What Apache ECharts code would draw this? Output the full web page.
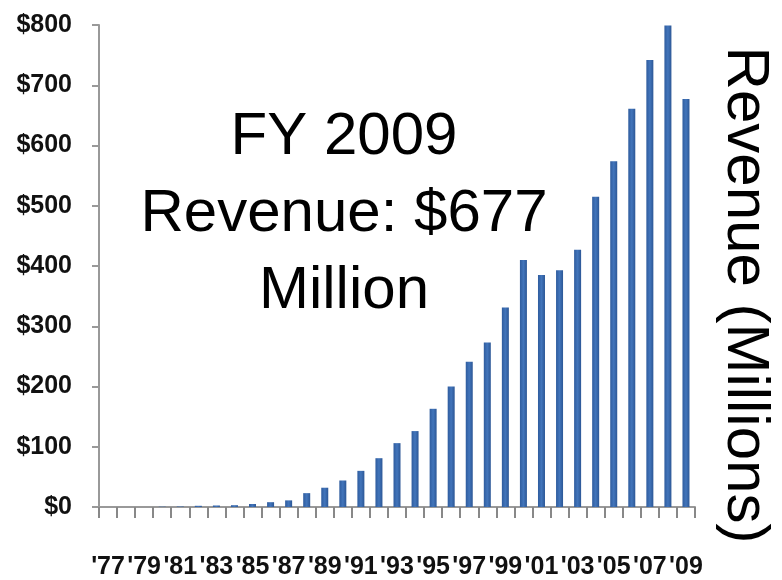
<!DOCTYPE html>
<html>
<head>
<meta charset="utf-8">
<script src="https://cdn.jsdelivr.net/npm/echarts@6/dist/echarts.min.js"></script>
<style>
html,body{margin:0;padding:0;background:#fff;}
#chart{width:782px;height:580px;}
</style>
</head>
<body>
<div id="chart"></div>
<script>
// Fiscal years ('77 – '09)
const years = ["'77","'78","'79","'80","'81","'82","'83","'84","'85","'86","'87","'88","'89","'90","'91","'92","'93","'94","'95","'96","'97","'98","'99","'00","'01","'02","'03","'04","'05","'06","'07","'08","'09"];
// Revenue in $ millions
const revenue = [0,0,0,0.5,0.8,2,2.5,3,5,8,11,23,32,44,60,81,106,126,163,200,241,273,331,410,385,393,427,515,574,661,742,799,677];
// Y-axis ticks
const yMin = 0, yMax = 800, yStep = 100;
const yPrefix = '$';
// Annotation texts
const noteLines = ['FY 2009', 'Revenue: $677', 'Million'];
const sideTitle = 'Revenue (Millions)';

const chart = echarts.init(document.getElementById('chart'));
const labelFont = '"Liberation Sans Narrow", "Liberation Sans", Arial, sans-serif';
const sans = '"Liberation Sans", Arial, Helvetica, sans-serif';

chart.setOption({
  backgroundColor: '#ffffff',
  animation: false,
  grid: { left: 99, right: 87, top: 25, bottom: 73, containLabel: false },
  xAxis: {
    type: 'category',
    data: years,
    boundaryGap: true,
    axisLine: { show: true, lineStyle: { color: '#999', width: 2 } },
    axisTick: { show: true, interval: 0, length: 11, lineStyle: { color: '#888', width: 2 } },
    axisLabel: {
      interval: 1,
      showMinLabel: true,
      showMaxLabel: true,
      hideOverlap: false,
      margin: 48,
      fontFamily: labelFont,
      fontWeight: 'bold',
      fontSize: 25,
      color: '#111'
    },
    splitLine: { show: false }
  },
  yAxis: {
    type: 'value',
    min: yMin,
    max: yMax,
    interval: yStep,
    axisLine: { show: true, lineStyle: { color: '#999', width: 2 } },
    axisTick: { show: true, length: 7, lineStyle: { color: '#999', width: 2 } },
    axisLabel: {
      margin: 27,
      showMinLabel: true,
      showMaxLabel: true,
      fontFamily: labelFont,
      fontWeight: 'bold',
      fontSize: 25,
      color: '#111',
      formatter: v => yPrefix + v
    },
    splitLine: { show: false }
  },
  series: [{
    type: 'bar',
    data: revenue,
    barWidth: 7,
    itemStyle: {
      color: new echarts.graphic.LinearGradient(0, 0, 1, 0, [
        { offset: 0, color: '#2f5c9e' },
        { offset: 0.5, color: '#4275bb' },
        { offset: 1, color: '#2c5796' }
      ])
    }
  }],
  graphic: [
    {
      type: 'text',
      x: 344,
      y: 214,
      style: {
        text: noteLines.join('\n'),
        font: '60px ' + sans,
        fill: '#000',
        align: 'center',
        verticalAlign: 'middle',
        lineHeight: 77
      }
    },
    {
      type: 'text',
      x: 745,
      y: 295,
      rotation: -Math.PI / 2,
      style: {
        text: sideTitle,
        font: '60px ' + sans,
        fill: '#000',
        align: 'center',
        verticalAlign: 'middle'
      }
    }
  ]
});
</script>
</body>
</html>
